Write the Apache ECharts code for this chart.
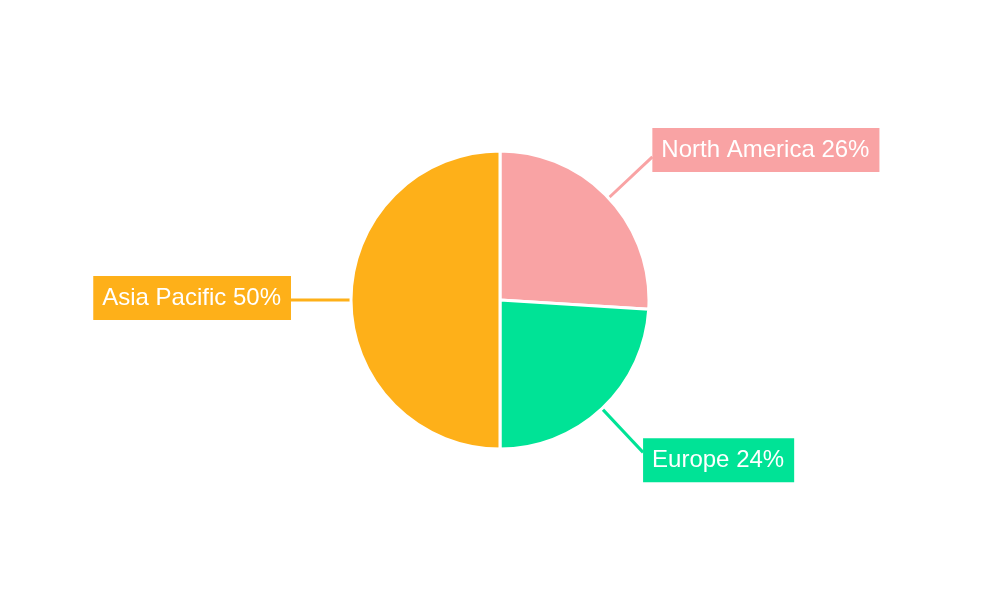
<!DOCTYPE html>
<html>
<head>
<meta charset="utf-8">
<script src="https://cdn.jsdelivr.net/npm/echarts@6/dist/echarts.min.js"></script>
<style>html,body{margin:0;padding:0;background:#fff}#c{width:1000px;height:600px}</style>
</head>
<body>
<div id="c"></div>
<script>
const categories = ["North America", "Europe", "Asia Pacific"];
const values = [26, 24, 50];
const colors = ["#F9A3A4", "#00E396", "#FEB019"];
const labelShift = [-7, 8, -2];

const chart = echarts.init(document.getElementById('c'), null, {renderer: 'canvas'});
chart.setOption({
  animation: false,
  series: [{
    type: 'pie',
    center: [500, 300],
    radius: [0, 149],
    startAngle: 90,
    clockwise: true,
    data: categories.map((n, i) => ({
      name: n, value: values[i],
      itemStyle: {color: colors[i]},
      label: {backgroundColor: colors[i]},
      labelLine: {lineStyle: {color: colors[i]}}
    })),
    itemStyle: {borderColor: '#fff', borderWidth: 3},
    label: {
      show: true,
      formatter: p => p.name + ' ' + p.value + '%',
      color: '#fff',
      fontFamily: 'Liberation Sans, Arial, sans-serif',
      fontSize: 24,
      padding: [10, 10, 10, 9],
      distanceToLabelLine: 0
    },
    labelLayout: p => ({dy: labelShift[p.dataIndex]}),
    labelLine: {show: true, length: 60, length2: 0, lineStyle: {width: 3}}
  }]
});
</script>
</body>
</html>
